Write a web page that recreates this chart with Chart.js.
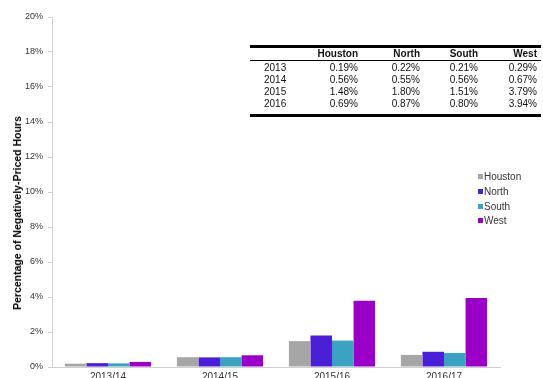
<!DOCTYPE html>
<html lang="en">
<head>
    <meta charset="UTF-8">
    <script src="https://cdn.jsdelivr.net/npm/chart.js"></script>
    <title>Negatively-Priced Hours</title>
    <style>
        html, body {
            margin: 0;
            padding: 0;
            width: 543px;
            height: 378px;
            overflow: hidden;
            background: #ffffff;
            font-family: "Liberation Sans", Arial, sans-serif;
        }
        #wrap {
            position: absolute;
            left: 0;
            top: 0;
            width: 543px;
            height: 392px;
        }
        #yTitle {
            position: absolute;
            left: 17px;
            top: 213px;
            transform: translate(-50%, -50%) rotate(-90deg);
            white-space: nowrap;
            font-size: 10.5px;
            font-weight: bold;
            color: #000;
        }
        #legend {
            position: absolute;
            left: 478px;
            top: 170px;
            font-size: 10px;
            color: #333;
        }
        #legend div {
            height: 14.8px;
            line-height: 13px;
            white-space: nowrap;
        }
        #legend span.box {
            display: inline-block;
            width: 5px;
            height: 5px;
            margin-right: 1px;
            vertical-align: 1px;
        }
        #dataTable {
            position: absolute;
            left: 250px;
            top: 45px;
            width: 291px;
            border-collapse: collapse;
            table-layout: fixed;
            font-size: 10px;
            color: #111;
            border-top: 3px solid #000;
            border-bottom: 3px solid #000;
        }
        #dataTable th, #dataTable td {
            padding: 0;
            text-align: right;
            height: 12px;
            line-height: 12px;
        }
        #dataTable th {
            font-weight: bold;
            border-bottom: 1px solid #000;
        }
        #dataTable td:first-child, #dataTable th:first-child {
            text-align: left;
            padding-left: 14px;
        }
        #dataTable td:last-child, #dataTable th:last-child {
            padding-right: 4px;
        }
        #dataTable tbody tr:first-child td { padding-top: 1px; }
        #dataTable tbody tr:last-child td { padding-bottom: 4px; }
    </style>
</head>
<body>
    <div id="wrap">
        <canvas id="chart" width="543" height="392"></canvas>
    </div>
    <div id="yTitle">Percentage of Negatively-Priced Hours</div>
    <div id="legend"></div>
    <table id="dataTable">
        <colgroup>
            <col style="width:50px"><col style="width:58px"><col style="width:62px"><col style="width:58px"><col style="width:63px">
        </colgroup>
        <thead><tr></tr></thead>
        <tbody></tbody>
    </table>

    <script>
        // dados do gráfico
        const categories = ['2013/14', '2014/15', '2015/16', '2016/17'];
        const tableYears = ['2013', '2014', '2015', '2016'];
        const seriesNames = ['Houston', 'North', 'South', 'West'];
        const houston = [0.19, 0.56, 1.48, 0.69];
        const north = [0.22, 0.55, 1.80, 0.87];
        const south = [0.21, 0.56, 1.51, 0.80];
        const west = [0.29, 0.67, 3.79, 3.94];
        const yTicks = [0, 2, 4, 6, 8, 10, 12, 14, 16, 18, 20];

        const seriesValues = [houston, north, south, west];
        const colors = ['#a6a6a6', '#4b1fd6', '#3ba2c2', '#9a00c8'];

        // tabela
        const headRow = document.querySelector('#dataTable thead tr');
        headRow.innerHTML = '<th></th>' + seriesNames.map(n => `<th>${n}</th>`).join('');
        const tbody = document.querySelector('#dataTable tbody');
        tableYears.forEach((yr, i) => {
            const row = document.createElement('tr');
            row.innerHTML = `<td>${yr}</td>` +
                seriesValues.map(s => `<td>${s[i].toFixed(2)}%</td>`).join('');
            tbody.appendChild(row);
        });

        // legenda
        const legend = document.getElementById('legend');
        seriesNames.forEach((name, i) => {
            const item = document.createElement('div');
            item.innerHTML = `<span class="box" style="background:${colors[i]}"></span>${name}`;
            legend.appendChild(item);
        });

        const ctx = document.getElementById('chart').getContext('2d');
        new Chart(ctx, {
            type: 'bar',
            data: {
                labels: categories,
                datasets: seriesNames.map((name, i) => ({
                    label: name,
                    data: seriesValues[i],
                    backgroundColor: colors[i],
                    categoryPercentage: 0.77,
                    barPercentage: 1.0
                }))
            },
            options: {
                responsive: false,
                animation: false,
                layout: { padding: { left: 0, right: 43, top: 17, bottom: 0 } },
                plugins: {
                    legend: { display: false },
                    tooltip: { enabled: false }
                },
                scales: {
                    x: {
                        grid: { display: false, drawTicks: false },
                        border: { display: true, color: '#d0d0d0' },
                        ticks: {
                            color: '#333',
                            padding: 4.5,
                            autoSkip: false,
                            font: { family: '"Liberation Sans", Arial', size: 10 }
                        },
                        afterFit: scale => { scale.height = 25; }
                    },
                    y: {
                        min: 0,
                        max: 20,
                        afterBuildTicks: scale => { scale.ticks = yTicks.map(v => ({ value: v })); },
                        grid: {
                            drawOnChartArea: false,
                            drawTicks: true,
                            tickLength: 4,
                            color: '#d0d0d0'
                        },
                        border: { display: true, color: '#d0d0d0' },
                        ticks: {
                            color: '#333',
                            padding: 5,
                            font: { family: '"Liberation Sans", Arial', size: 9 },
                            callback: v => v + '%'
                        },
                        afterFit: scale => { scale.width = 52; }
                    }
                }
            }
        });
    </script>
</body>
</html>
